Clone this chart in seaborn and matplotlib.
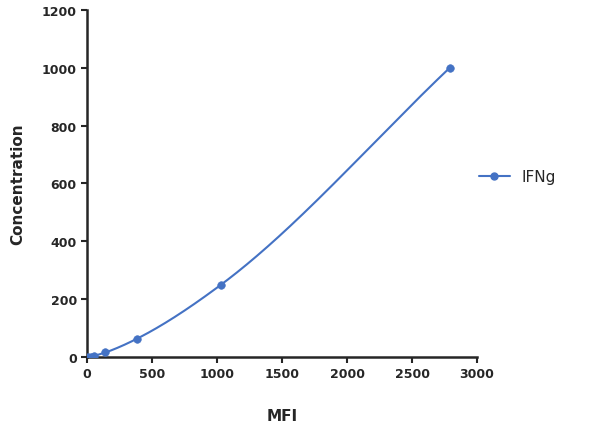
import numpy as np
import pandas as pd
import seaborn as sns
import matplotlib
matplotlib.use("Agg")
import matplotlib.pyplot as plt

mfi = [10, 30, 55, 140, 380, 1030, 2790]
conc = [0, 0.98, 3.9, 15.6, 62.5, 250, 1000]
series = "IFNg"
color = "#4472C4"

def pchip(x, y, xn):
    x = np.asarray(x, float); y = np.asarray(y, float)
    h = np.diff(x); d = np.diff(y) / h
    m = np.zeros_like(x)
    for k in range(1, len(x) - 1):
        if d[k-1] * d[k] > 0:
            w1 = 2*h[k] + h[k-1]; w2 = h[k] + 2*h[k-1]
            m[k] = (w1 + w2) / (w1/d[k-1] + w2/d[k])
    m[0] = d[0]; m[-1] = d[-1]
    i = np.clip(np.searchsorted(x, xn) - 1, 0, len(x) - 2)
    t = (xn - x[i]) / h[i]
    h00 = 2*t**3 - 3*t**2 + 1; h10 = t**3 - 2*t**2 + t
    h01 = -2*t**3 + 3*t**2; h11 = t**3 - t**2
    return h00*y[i] + h10*h[i]*m[i] + h01*y[i+1] + h11*h[i]*m[i+1]

sns.set_style("ticks")
fig = plt.figure(figsize=(5.89, 4.35), dpi=100)
ax = fig.add_axes([0.148, 0.177, 0.662, 0.798])
xs = np.linspace(mfi[0], mfi[-1], 400)
sns.lineplot(x=xs, y=pchip(mfi, conc, xs), ax=ax, color=color, lw=1.5)
sns.scatterplot(x=mfi, y=conc, ax=ax, color=color, s=30, edgecolor=color, zorder=3)
ax.plot([], [], color=color, marker="o", ms=5, lw=1.5, label=series)
ax.set_xlim(0, 3000); ax.set_ylim(0, 1200)
ax.set_xticks(range(0, 3001, 500)); ax.set_yticks(range(0, 1201, 200))
for s in ["top", "right"]:
    ax.spines[s].set_visible(False)
for s in ["left", "bottom"]:
    ax.spines[s].set_linewidth(1.8)
ax.tick_params(width=1.5, length=4, labelsize=9)
for lab in ax.get_xticklabels() + ax.get_yticklabels():
    lab.set_fontweight("bold")
ax.set_xlabel("MFI", fontsize=11, fontweight="bold", labelpad=20)
ax.set_ylabel("Concentration", fontsize=11, fontweight="bold", labelpad=12)
ax.legend(loc="center left", bbox_to_anchor=(0.97, 0.52), frameon=False, fontsize=11, handlelength=2)
fig.savefig("out.png", dpi=100)
